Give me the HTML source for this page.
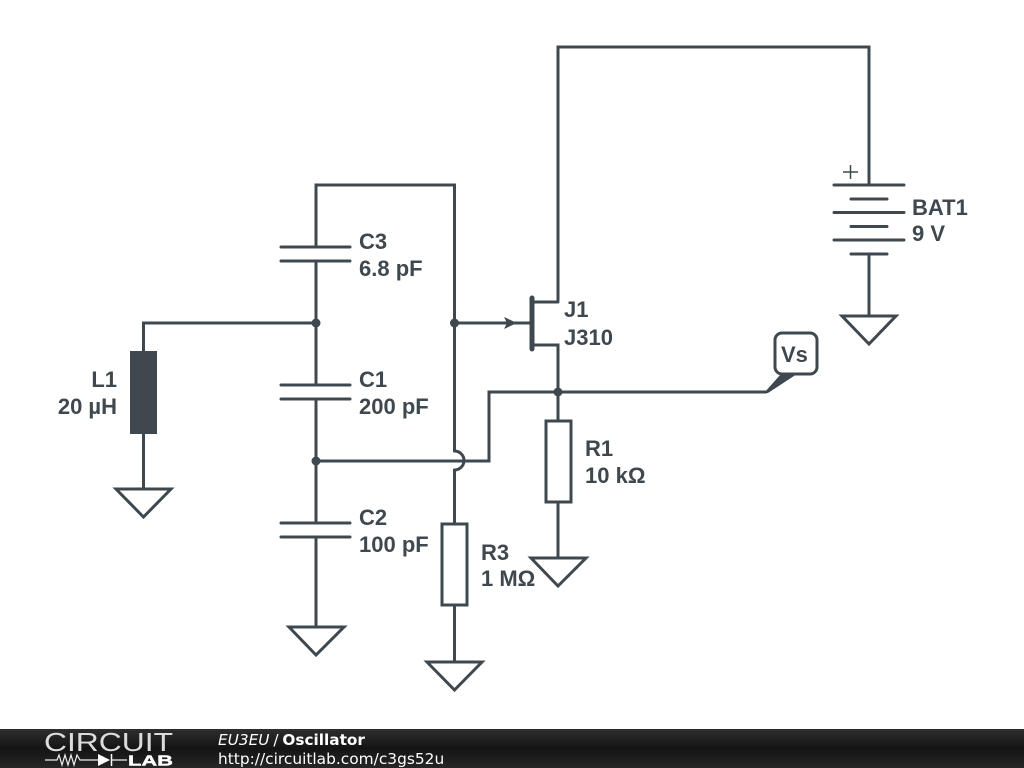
<!DOCTYPE html>
<html>
<head>
<meta charset="utf-8">
<style>
html,body{margin:0;padding:0;background:#fff}
svg{display:block}
.l{font-family:"Liberation Sans",sans-serif;font-weight:bold;font-size:22px;fill:#3f484e}
.f{font-family:"DejaVu Sans",sans-serif;font-size:15.300px;fill:#fff}
</style>
</head>
<body>
<svg width="1024" height="768" viewBox="0 0 1024 768" xmlns="http://www.w3.org/2000/svg">
<defs>
<linearGradient id="g" x1="0" y1="0" x2="0" y2="1">
<stop offset="0" stop-color="#2e2e2e"/>
<stop offset=".5" stop-color="#141414"/>
<stop offset="1" stop-color="#262626"/>
</linearGradient>
</defs>
<rect width="1024" height="768" fill="#fff"/>
<g fill="none" stroke="#3f484e" stroke-width="3" stroke-linecap="round" stroke-linejoin="miter">
<path d="M558 300V47H869V185"/>
<path d="M834 185H904M851 199H887M834 212.500H904M851 226.500H887M834 240H904M851 254H887"/>
<path d="M869 254V316"/>
<path d="M842 316H896L869 344Z"/>
<path d="M316 247V185H454.500V451"/>
<path d="M454.500 470V524"/>
<path d="M454.500 451A9.500 9.500 0 0 1 454.500 470"/>
<path d="M281 247H350M281 261H350"/>
<path d="M316 261V385"/>
<path d="M281 385H350M281 399H350"/>
<path d="M316 399V523"/>
<path d="M281 523H350M281 537H350"/>
<path d="M316 537V627"/>
<path d="M289 627H344L316 655Z"/>
<path d="M316 323H143.500V352"/>
<path d="M143.500 433V489"/>
<path d="M116 489H171L143.500 517Z"/>
<rect x="442" y="524" width="25" height="81"/>
<path d="M454.500 605V662"/>
<path d="M427 662H482L454.500 690Z"/>
<path d="M454.500 323H532"/>
<path d="M532 298V349" stroke-width="5"/>
<path d="M533 302H558M533 345H558V421"/>
<path d="M316 461H489V392H766"/>
<rect x="546" y="421" width="25" height="81"/>
<path d="M558 502V558"/>
<path d="M531 558H586L558 586Z"/>
<rect x="775" y="333" width="42" height="41" rx="7"/>
</g>
<g fill="#3f484e">
<circle cx="316" cy="323" r="4.500"/>
<circle cx="454.500" cy="323" r="4.500"/>
<circle cx="316" cy="461" r="4.500"/>
<circle cx="558" cy="392" r="4.500"/>
<path d="M504 317L517 323L504 329L507 323Z"/>
<rect x="130" y="351" width="27" height="83"/>
<path d="M764 393L781 374H797L768 393Z"/>
</g>
<path d="M843 172H858M850.500 165V179" stroke="#3f484e" stroke-width="1.500" fill="none"/>
<text class="l" x="359" y="249">C3</text>
<text class="l" x="359" y="276">6.8 pF</text>
<text class="l" x="359" y="387">C1</text>
<text class="l" x="359" y="414">200 pF</text>
<text class="l" x="359" y="525">C2</text>
<text class="l" x="359" y="552">100 pF</text>
<text class="l" x="117" y="387" text-anchor="end">L1</text>
<text class="l" x="117" y="414" text-anchor="end">20 µH</text>
<text class="l" x="564" y="317">J1</text>
<text class="l" x="564" y="345">J310</text>
<text class="l" x="585" y="456">R1</text>
<text class="l" x="585" y="483">10 kΩ</text>
<text class="l" x="481" y="560">R3</text>
<text class="l" x="481" y="586">1 MΩ</text>
<text class="l" x="912" y="215">BAT1</text>
<text class="l" x="912" y="241">9 V</text>
<text class="l" x="781" y="362">Vs</text>
<rect x="0" y="729" width="1024" height="39" fill="url(#g)"/>
<text x="44" y="751" font-family="Liberation Sans,sans-serif" font-size="26" fill="#dcdcdc" textLength="129" lengthAdjust="spacingAndGlyphs">CIRCUIT</text>
<path d="M45 760H57L59 755L62 765L65 755L68 765L71 755L74 765L77 755L80 760H98M112 760H127" stroke="#eee" stroke-width="1.200" fill="none"/>
<path d="M98 754L110 760L98 766Z" fill="#fff"/>
<path d="M111.500 754V766" stroke="#fff" stroke-width="1.500"/>
<text x="128" y="765.500" font-family="Liberation Sans,sans-serif" font-weight="bold" font-size="14.500" fill="#fff" stroke="#fff" stroke-width=".4" textLength="45" lengthAdjust="spacingAndGlyphs">LAB</text>
<text class="f" x="218" y="745"><tspan font-style="italic">EU3EU</tspan><tspan dx="-1"> / </tspan><tspan font-weight="bold" dx="-1">Oscillator</tspan></text>
<text class="f" x="218" y="764" style="font-size:15.400px">http://circuitlab.com/c3gs52u</text>
</svg>
</body>
</html>
